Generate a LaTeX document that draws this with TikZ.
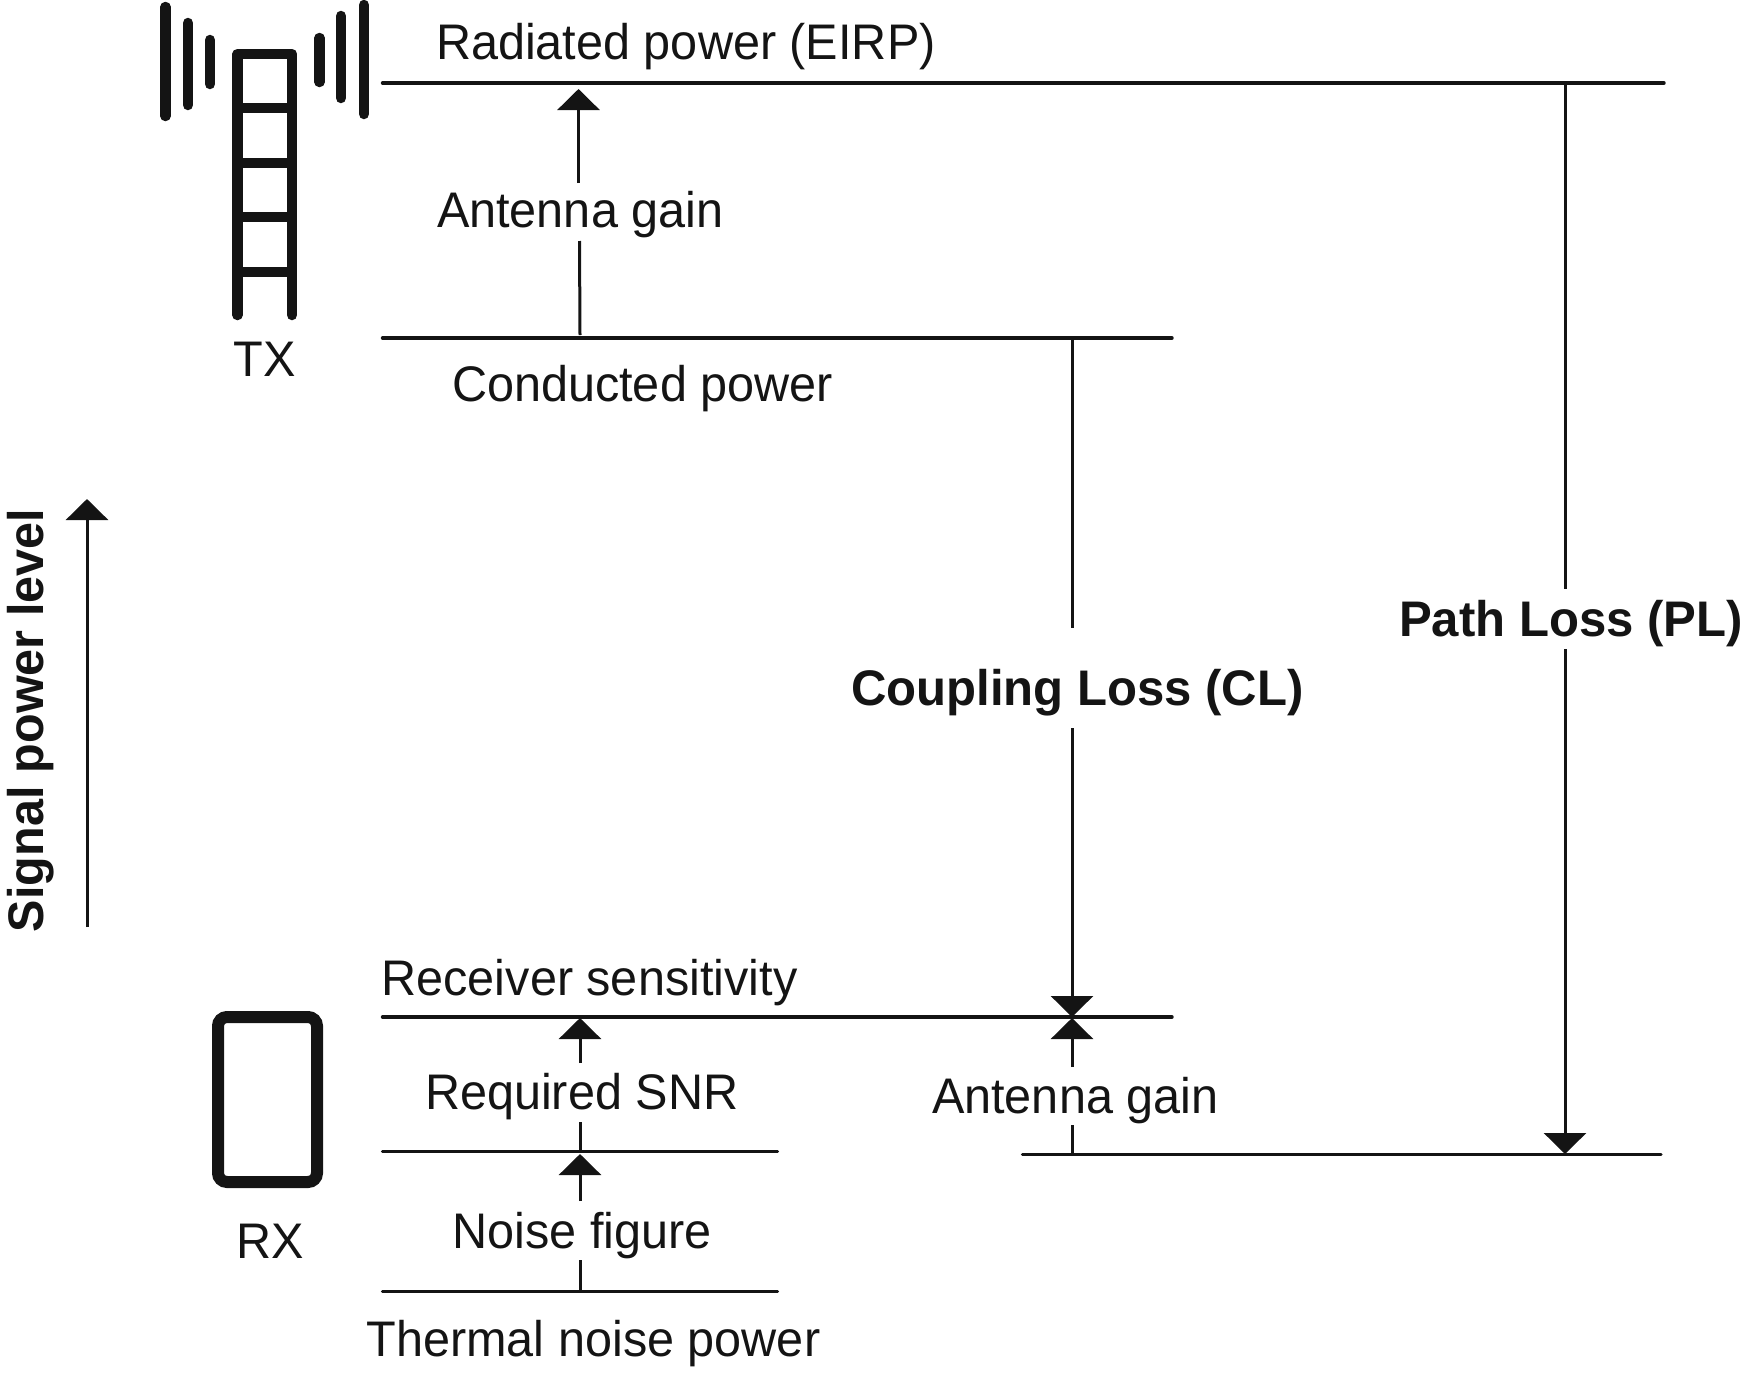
\documentclass[tikz,border=0pt]{standalone}
\usepackage{fontspec}
\setmainfont[FakeStretch=0.972]{Liberation Sans}
\newfontfamily\headfont[FakeStretch=0.982]{Liberation Sans Bold}
\newfontfamily\axisfont[FakeStretch=0.97]{Liberation Sans Bold}
\usetikzlibrary{arrows.meta}
\definecolor{ink}{HTML}{141414}
\tikzset{
  lab/.style={inner sep=0pt,outer sep=0pt,anchor=base west,text=ink,font=\fontsize{50}{60}\selectfont},
  boldlab/.style={lab,font=\fontsize{50}{60}\headfont},
  axislab/.style={lab,font=\fontsize{50}{60}\axisfont},
  level/.style={draw=ink,line width=3.4pt,line cap=round},
  link/.style={draw=ink,line width=3pt},
  tipped/.style={link,-{Triangle[length=21pt,width=42pt,color=ink]}},
  icon/.style={draw=ink,line width=10.5pt,line cap=round,line join=round}
}
\begin{document}
\begin{tikzpicture}[x=1pt,y=-1pt]
\useasboundingbox (0,0) rectangle (1740,1373);

% Transmit tower
\draw[icon] (237.5,315) -- (237.5,54) -- (292,54) -- (292,315);
\foreach \ry in {108,163,217,272} \draw[icon,line cap=butt] (237.5,\ry) -- (292,\ry);
\draw[icon] (165.5,7) -- (165.5,116);
\draw[icon] (188,23) -- (188,105);
\draw[icon] (210,40) -- (210,84);
\draw[icon] (319.5,38) -- (319.5,82);
\draw[icon] (341,16) -- (341,98);
\draw[icon] (364,5) -- (364,114);

% Receiver handset
\draw[draw=ink,line width=12pt,rounded corners=9pt] (218,1017) rectangle (317,1182);

% End points of the power levels
\coordinate (eirpL) at (382.5,83);   \coordinate (eirpR) at (1664,83);
\coordinate (condL) at (382.5,338);  \coordinate (condR) at (1172,338);
\coordinate (sensL) at (382.5,1017); \coordinate (sensR) at (1172,1017);
\coordinate (nfL)   at (382.5,1151.5); \coordinate (nfR)   at (777.5,1151.5);
\coordinate (thL)   at (382.5,1291.5); \coordinate (thR)   at (777.5,1291.5);
\coordinate (rxL)   at (1022.5,1154.5);\coordinate (rxR)   at (1661,1154.5);
\foreach \a/\b in {eirpL/eirpR,condL/condR,sensL/sensR,nfL/nfR,thL/thR,rxL/rxR}
  \draw[level] (\a) -- (\b);

% Labels
\node[lab] (radiated) at (436,59) {Radiated power (EIRP)};
\node[lab] (txgain) at (437,227) {Antenna gain};
\node[lab,anchor=base] (tx) at (265,376) {TX};
\node[lab] (conducted) at (452,401) {Conducted power};
\node[lab] (sens) at (381.5,995) {Receiver sensitivity};
\node[lab] (snr) at (425,1109) {Required SNR};
\node[lab] (noisefig) at (452.5,1248) {Noise figure};
\node[lab] (thermal) at (366.5,1356) {Thermal noise power};
\node[lab,anchor=base] (rx) at (270,1258) {RX};
\node[lab] (rxgain) at (932,1113) {Antenna gain};
\node[boldlab] (cl) at (851,705) {Coupling Loss (CL)};
\node[boldlab] (pl) at (1399,636) {Path Loss (PL)};
\node[axislab,rotate=90] (signal) at (43.5,932) {Signal power level};

% Gain steps on the transmit side
\coordinate (a1) at (580,335); \coordinate (a2) at (579.5,241);
\coordinate (a3) at (578.5,183); \coordinate (a4) at (578.5,89);
\draw[link] (a1) -- (a2);
\draw[tipped] (a3) -- (a4);

% Gain steps on the receive chain
\coordinate (b1) at (580,1291); \coordinate (b2) at (580,1260);
\coordinate (b3) at (580,1201); \coordinate (b4) at (580,1154);
\coordinate (b5) at (580,1151); \coordinate (b6) at (580,1122);
\coordinate (b7) at (580,1063); \coordinate (b8) at (580,1018);
\draw[link] (b1) -- (b2);
\draw[tipped] (b3) -- (b4);
\draw[link] (b5) -- (b6);
\draw[tipped] (b7) -- (b8);

% Receive antenna gain
\coordinate (c1) at (1072,1154); \coordinate (c2) at (1072,1125);
\coordinate (c3) at (1072,1067); \coordinate (c4) at (1072,1018);
\draw[link] (c1) -- (c2);
\draw[tipped] (c3) -- (c4);

% Coupling loss
\coordinate (d1) at (1072,338); \coordinate (d2) at (1072,628);
\coordinate (d3) at (1072,728); \coordinate (d4) at (1072,1017);
\draw[link] (d1) -- (d2);
\draw[tipped] (d3) -- (d4);

% Path loss
\coordinate (e1) at (1565,83);  \coordinate (e2) at (1565,589);
\coordinate (e3) at (1565,649); \coordinate (e4) at (1565,1154);
\draw[link] (e1) -- (e2);
\draw[tipped] (e3) -- (e4);

% Direction of increasing signal level
\coordinate (s1) at (87,927); \coordinate (s2) at (87,499);
\draw[tipped] (s1) -- (s2);
\end{tikzpicture}
\end{document}
